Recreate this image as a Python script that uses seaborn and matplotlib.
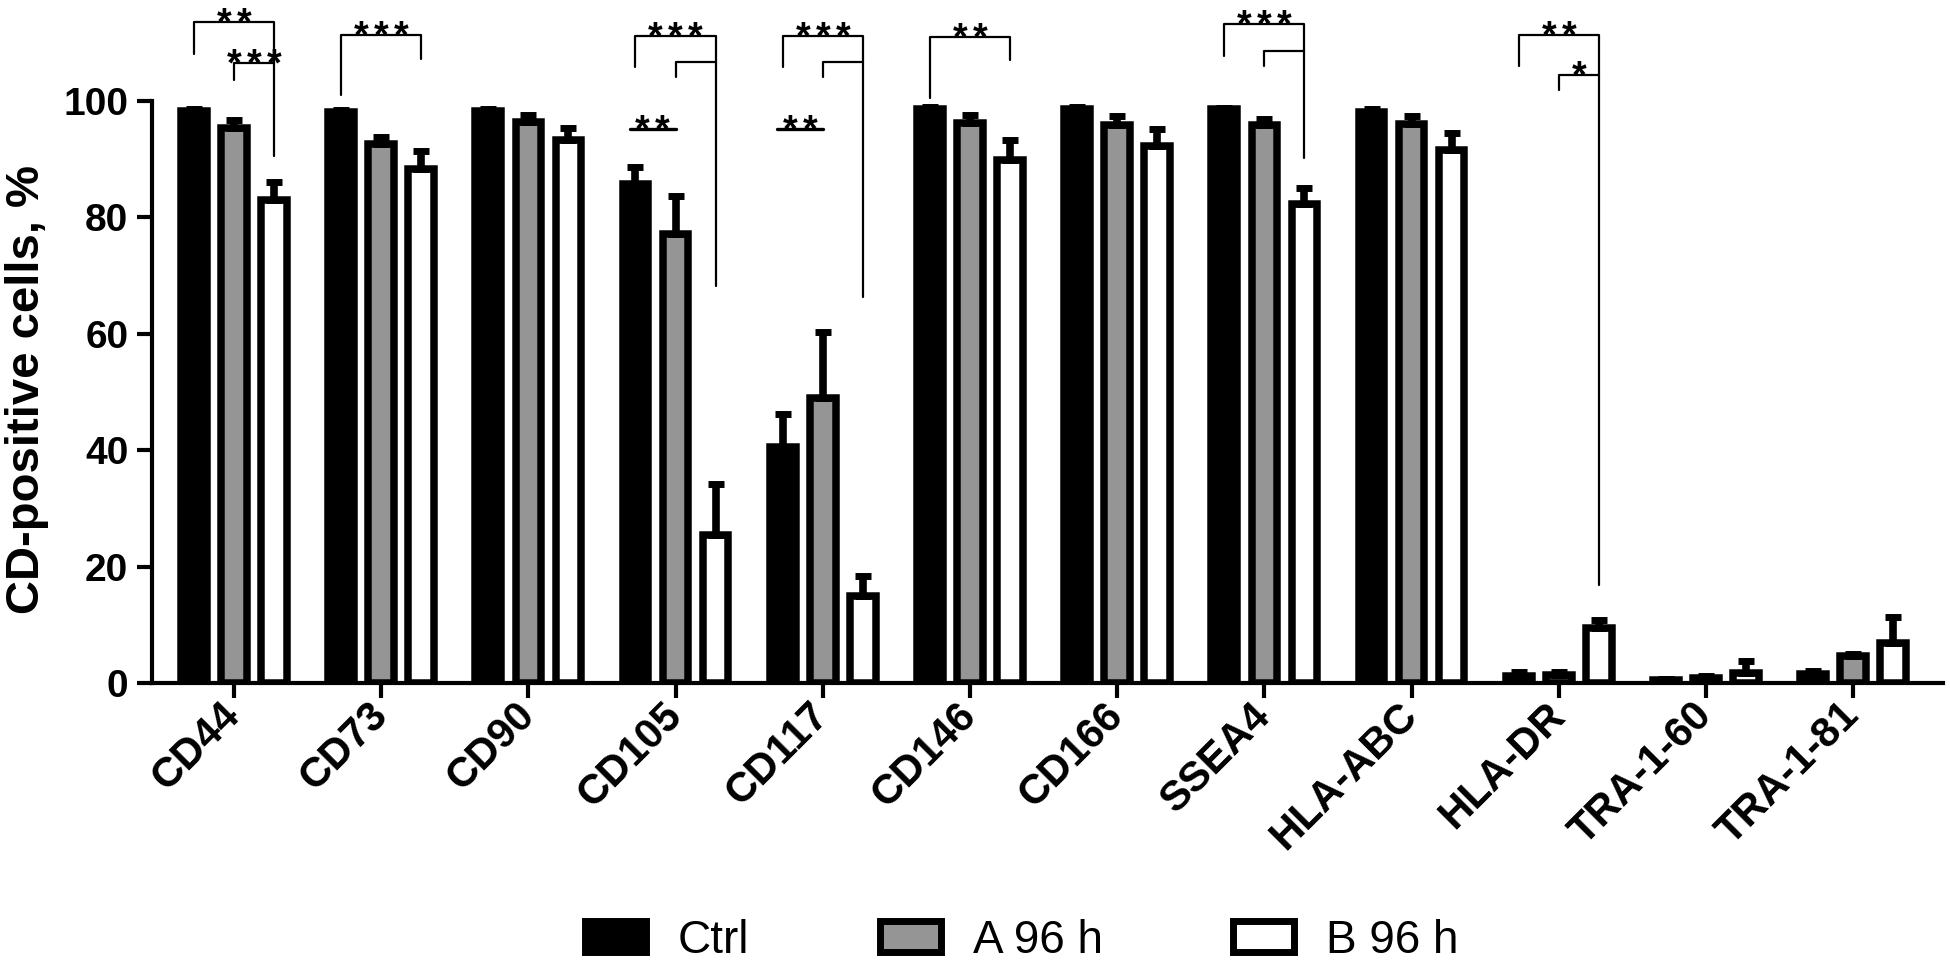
import numpy as np
import pandas as pd
import seaborn as sns
import matplotlib.pyplot as plt
from matplotlib.patches import Patch

markers = ['CD44', 'CD73', 'CD90', 'CD105', 'CD117', 'CD146', 'CD166',
           'SSEA4', 'HLA-ABC', 'HLA-DR', 'TRA-1-60', 'TRA-1-81']
groups = ['Ctrl', 'A 96 h', 'B 96 h']

ctrl_mean = [98.2, 98.0, 98.2, 85.7, 40.5, 98.6, 98.6, 98.5, 98.1, 1.2, 0.5, 1.6]
ctrl_sd = [0.3, 0.4, 0.3, 3.0, 5.7, 0.3, 0.4, 0.2, 0.4, 0.7, 0.2, 0.4]
a_mean = [95.4, 92.5, 96.3, 77.1, 48.9, 96.2, 95.8, 95.9, 96.0, 1.4, 0.9, 4.6]
a_sd = [1.3, 1.3, 1.3, 6.6, 11.4, 1.4, 1.5, 1.0, 1.4, 0.5, 0.3, 0.4]
b_mean = [83.0, 88.2, 93.3, 25.5, 14.9, 89.8, 92.3, 82.2, 91.5, 9.4, 1.8, 6.9]
b_sd = [3.0, 3.2, 2.0, 8.6, 3.4, 3.4, 2.9, 2.8, 3.0, 1.4, 1.9, 4.4]

# significance brackets: marker, from, to, line y, left leg end, right leg end, stars
brackets = [
    ('CD44', 'Ctrl', 'B 96 h', 113.6, 108.0, 90.5, '**'),
    ('CD44', 'A 96 h', 'B 96 h', 106.4, 103.6, None, '***'),
    ('CD73', 'Ctrl', 'B 96 h', 111.3, 101.0, 107.1, '***'),
    ('CD105', 'Ctrl', 'B 96 h', 111.1, 105.8, 68.2, '***'),
    ('CD105', 'A 96 h', 'B 96 h', 106.7, 104.1, None, ''),
    ('CD117', 'Ctrl', 'B 96 h', 111.1, 105.8, 66.3, '***'),
    ('CD117', 'A 96 h', 'B 96 h', 106.7, 104.1, None, ''),
    ('CD146', 'Ctrl', 'B 96 h', 110.9, 100.5, 107.0, '**'),
    ('SSEA4', 'Ctrl', 'B 96 h', 113.1, 107.7, 90.2, '***'),
    ('SSEA4', 'A 96 h', 'B 96 h', 108.6, 106.0, None, ''),
    ('HLA-DR', 'Ctrl', 'B 96 h', 111.3, 106.0, 16.8, '**'),
    ('HLA-DR', 'A 96 h', 'B 96 h', 104.4, 101.9, None, '*'),
]
underlines = [('CD105', 95.1, '**'), ('CD117', 95.1, '**')]

colors = {'Ctrl': 'black', 'A 96 h': '#959595', 'B 96 h': 'white'}

df = pd.DataFrame({
    'marker': markers * 3,
    'group': [g for g in groups for _ in markers],
    'value': ctrl_mean + a_mean + b_mean,
    'sd': ctrl_sd + a_sd + b_sd,
})

sns.set_style('ticks')
plt.rcParams['font.family'] = ['Liberation Sans', 'DejaVu Sans']
plt.rcParams.update({'text.color': 'black', 'axes.edgecolor': 'black',
                     'axes.labelcolor': 'black', 'xtick.color': 'black',
                     'ytick.color': 'black'})

fig = plt.figure(figsize=(19.5, 9.67), dpi=100)
ax = fig.add_axes([0.0779, 0.2937, 0.9185, 0.7063])

sns.barplot(data=df, x='marker', y='value', hue='group', order=markers,
            hue_order=groups, palette=colors, edgecolor='black', linewidth=5.4,
            width=0.816, gap=0.36, legend=False, ax=ax)

# bar centres from the drawn patches
centers = {}
for g, cont in zip(groups, ax.containers):
    for m, p in zip(markers, cont.patches):
        centers[(m, g)] = p.get_x() + p.get_width() / 2

for g in groups:
    sub = df[df['group'] == g]
    xs = [centers[(m, g)] for m in sub['marker']]
    ax.errorbar(xs, sub['value'], yerr=[np.zeros(len(sub)), sub['sd']],
                fmt='none', ecolor='black', elinewidth=5.5, capsize=6,
                capthick=5, zorder=3)


def stars(x, y, s):
    n = len(s)
    for k in range(n):
        ax.annotate('*', xy=(x, y), xytext=((k - (n - 1) / 2) * 14.4, -9.0),
                    textcoords='offset points', ha='center', va='baseline',
                    fontsize=27, fontweight='bold', annotation_clip=False)


for m, g1, g2, y, yl, yr, s in brackets:
    x1, x2 = centers[(m, g1)], centers[(m, g2)]
    if yr is None:
        ax.plot([x1, x1, x2], [yl, y, y], color='black', lw=1.6, clip_on=False)
    else:
        ax.plot([x1, x1, x2, x2], [yl, y, y, yr], color='black', lw=1.6,
                clip_on=False)
    if s:
        stars((x1 + x2) / 2, y, s)

for m, y, s in underlines:
    x1, x2 = centers[(m, 'Ctrl')] - 0.04, centers[(m, 'A 96 h')]
    ax.plot([x1, x2], [y, y], color='black', lw=2.4, clip_on=False)
    stars((x1 + x2) / 2, y, s)

ax.set_ylim(0, 117.3)
ax.set_xlim(-0.557, 11.61)
ax.set_yticks([0, 20, 40, 60, 80, 100])
ax.spines['left'].set_bounds(0, 100)
ax.spines['top'].set_visible(False)
ax.spines['right'].set_visible(False)
ax.spines['left'].set_linewidth(3)
ax.spines['bottom'].set_linewidth(3)
ax.tick_params(axis='both', length=11, width=3, color='black')
ax.tick_params(axis='y', labelsize=28, pad=6)
ax.tick_params(axis='x', labelsize=30, pad=8)
for lab in ax.get_yticklabels():
    lab.set_fontweight('bold')
ax.set_xticks(range(len(markers)))
ax.set_xticklabels(markers, rotation=45, ha='right', va='center',
                   rotation_mode='anchor', fontweight='bold')
ax.set_xlabel('')
ax.set_ylabel('')
fig.text(27 / 1950, 1 - 389 / 967, 'CD-positive cells, %', rotation=90,
         ha='center', va='center', fontsize=34, fontweight='bold')

handles = [Patch(facecolor=colors[g], edgecolor='black', linewidth=5, label=g)
           for g in groups]
fig.legend(handles=handles, loc='center', bbox_to_anchor=(0.524, 0.027),
           ncol=3, frameon=False, fontsize=33, handlelength=1.33,
           handleheight=0.66, handletextpad=0.7, columnspacing=2.85,
           borderpad=0, borderaxespad=0)

fig.savefig('out.png', dpi=100)
